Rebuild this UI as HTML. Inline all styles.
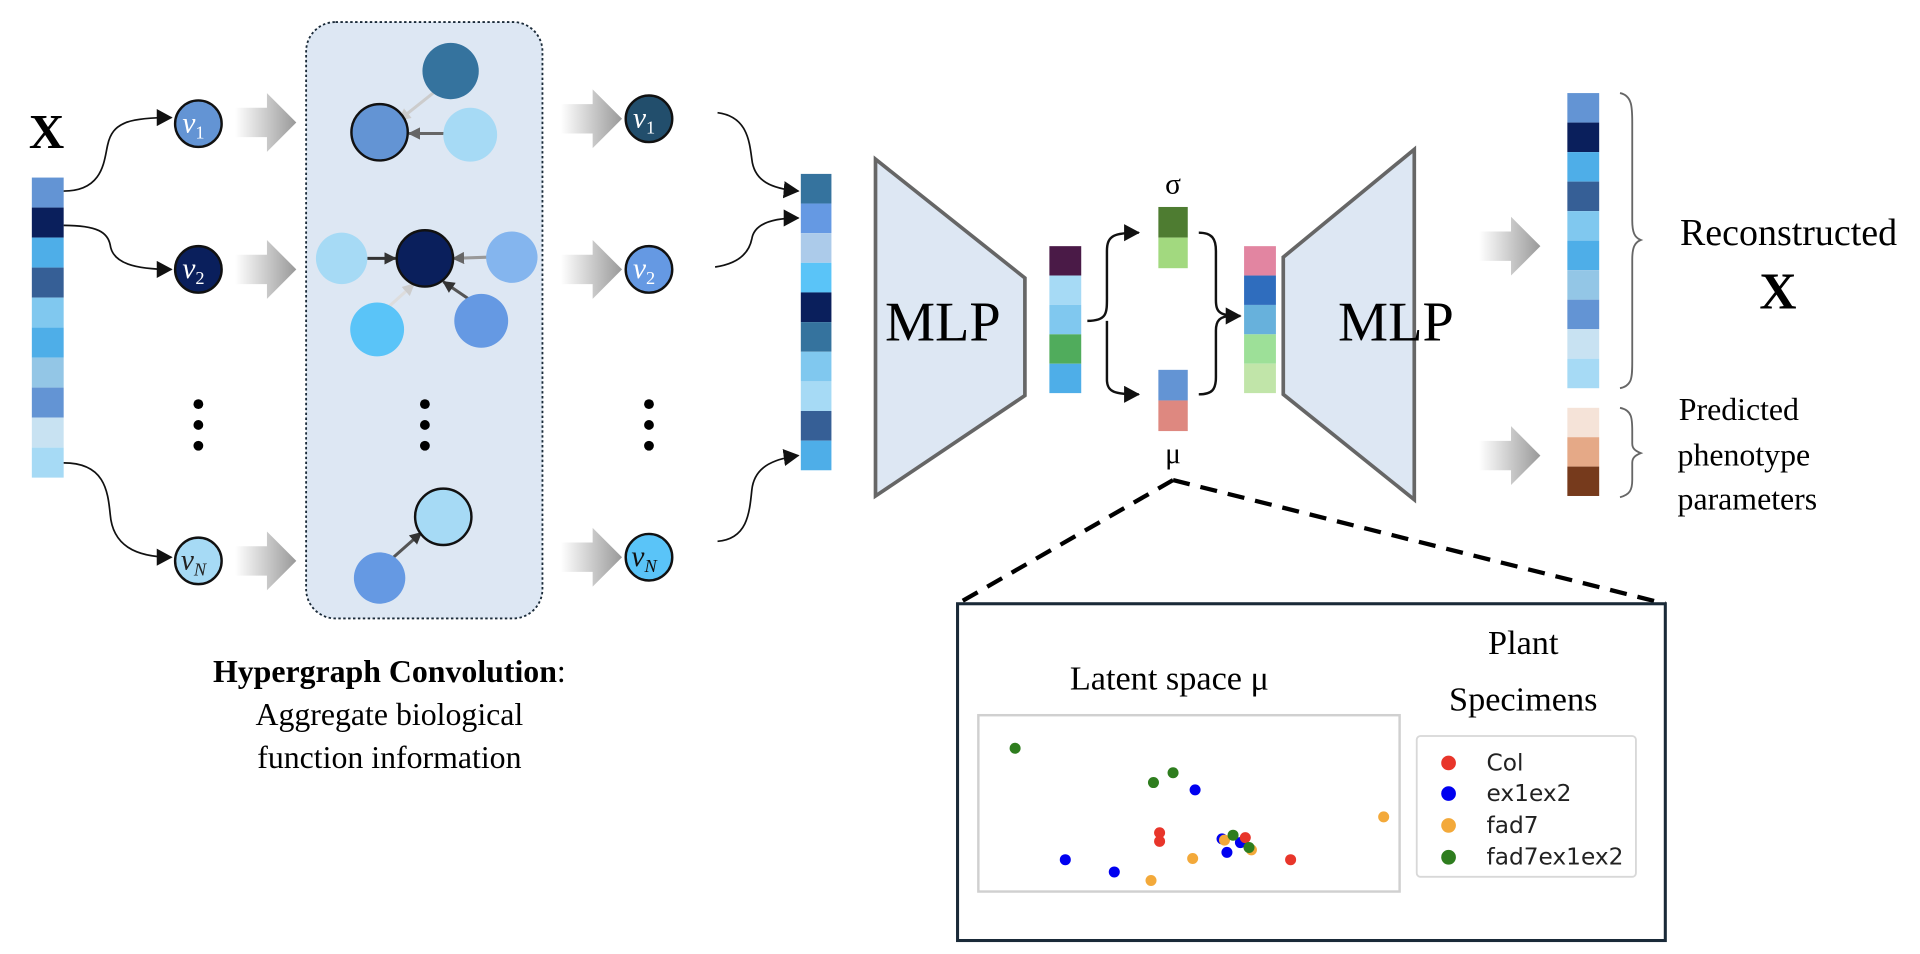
<!DOCTYPE html>
<html><head><meta charset="utf-8"><style>html,body{margin:0;padding:0;background:#fff}svg{display:block}</style></head>
<body>
<svg width="1920" height="954" viewBox="0 0 1568 779" preserveAspectRatio="none" xmlns="http://www.w3.org/2000/svg" font-family="Liberation Serif, serif">
<defs>
<marker id="ah2" markerWidth="14" markerHeight="14" refX="12" refY="7" orient="auto" markerUnits="userSpaceOnUse"><path d="M0,0 L13,7 L0,14z" fill="#111"/></marker>
<marker id="ag" markerWidth="10" markerHeight="10" refX="9" refY="5" orient="auto" markerUnits="userSpaceOnUse"><path d="M0,0 L10,5 L0,10z" fill="#666"/></marker>
<marker id="al" markerWidth="10" markerHeight="10" refX="9" refY="5" orient="auto" markerUnits="userSpaceOnUse"><path d="M0,0 L10,5 L0,10z" fill="#ccc"/></marker>
<marker id="ak" markerWidth="10" markerHeight="10" refX="9" refY="5" orient="auto" markerUnits="userSpaceOnUse"><path d="M0,0 L10,5 L0,10z" fill="#333"/></marker>
<linearGradient id="gg" x1="0" x2="1"><stop offset="0" stop-color="#fff"/><stop offset="1" stop-color="#999"/></linearGradient>
<g id="garr"><path d="M0,-12 L26,-12 L26,-24 L50,0 L26,24 L26,12 L0,12z" fill="url(#gg)"/></g>
</defs>

<text x="38" y="121" font-size="40" font-weight="bold" text-anchor="middle">X</text>
<g>
<rect x="26" y="145" width="26" height="24.5" fill="#6394d4"/><rect x="26" y="169.5" width="26" height="24.5" fill="#0a1f5c"/><rect x="26" y="194" width="26" height="24.5" fill="#4eaee8"/><rect x="26" y="218.5" width="26" height="24.5" fill="#365f96"/><rect x="26" y="243" width="26" height="24.5" fill="#80c8ef"/><rect x="26" y="267.5" width="26" height="24.5" fill="#4eaee8"/><rect x="26" y="292" width="26" height="24.5" fill="#93c6e6"/><rect x="26" y="316.5" width="26" height="24.5" fill="#6394d4"/><rect x="26" y="341" width="26" height="24.5" fill="#c8e2f2"/><rect x="26" y="365.5" width="26" height="24.5" fill="#a6daf5"/>
</g>
<g fill="none" stroke="#111" stroke-width="1.4">
<path d="M52,156 C85,156 85,130 88,118 C92,100 105,96 140,96" marker-end="url(#ah2)"/>
<path d="M52,184 C80,184 88,190 90,200 C92,215 110,220 140,220" marker-end="url(#ah2)"/>
<path d="M52,378 C85,378 88,400 90,420 C92,445 110,455 140,455" marker-end="url(#ah2)"/>
</g>
<g stroke="#111" stroke-width="2">
<circle cx="162" cy="101" r="19" fill="#6394d4"/><circle cx="162" cy="220" r="19" fill="#0a1f5c"/><circle cx="162" cy="458" r="19" fill="#a6daf5"/>
</g>
<g font-style="italic" font-size="24" fill="#fff" text-anchor="middle">
<text x="158" y="108">v<tspan font-size="15" dy="5" font-style="normal">1</tspan></text>
<text x="158" y="227">v<tspan font-size="15" dy="5" font-style="normal">2</tspan></text>
<text x="158" y="465" fill="#222">v<tspan font-size="15" dy="5">N</tspan></text>
</g>
<g fill="#000"><circle cx="162" cy="330" r="4"/><circle cx="162" cy="347" r="4"/><circle cx="162" cy="364" r="4"/></g>
<use href="#garr" x="192" y="100"/><use href="#garr" x="192" y="220"/><use href="#garr" x="192" y="458"/>

<rect x="250" y="18" width="193" height="487" rx="24" fill="#dde7f3" stroke="#1a2a38" stroke-width="1.5" stroke-dasharray="2,2"/>
<g stroke-width="2.5" fill="none">
<line x1="355" y1="75" x2="326" y2="98" stroke="#ccc" marker-end="url(#al)"/>
<line x1="363" y1="109" x2="334" y2="109" stroke="#666" marker-end="url(#ag)"/>
<line x1="300" y1="211" x2="323" y2="211" stroke="#333" marker-end="url(#ak)"/>
<line x1="398" y1="210" x2="370" y2="211" stroke="#999" marker-end="url(#ag)"/>
<line x1="318" y1="250" x2="338" y2="232" stroke="#ddd" marker-end="url(#al)"/>
<line x1="384" y1="245" x2="362" y2="230" stroke="#555" marker-end="url(#ak)"/>
<line x1="318" y1="458" x2="344" y2="435" stroke="#555" marker-end="url(#ak)"/>
</g>
<circle cx="368" cy="58" r="23" fill="#35739e"/>
<circle cx="310" cy="108" r="23" fill="#6394d4" stroke="#111" stroke-width="2"/>
<circle cx="384" cy="110" r="22" fill="#a6daf5"/>
<circle cx="279" cy="211" r="21" fill="#a6daf5"/>
<circle cx="347" cy="211" r="23" fill="#0a1f5c" stroke="#111" stroke-width="2"/>
<circle cx="418" cy="210" r="21" fill="#84b5ee"/>
<circle cx="308" cy="269" r="22" fill="#5ac4f8"/>
<circle cx="393" cy="262" r="22" fill="#6599e3"/>
<circle cx="362" cy="422" r="23" fill="#a6daf5" stroke="#111" stroke-width="2"/>
<circle cx="310" cy="472" r="21" fill="#6599e3"/>
<g fill="#000"><circle cx="347" cy="330" r="4"/><circle cx="347" cy="347" r="4"/><circle cx="347" cy="364" r="4"/></g>

<use href="#garr" x="458" y="97"/><use href="#garr" x="458" y="220"/><use href="#garr" x="458" y="455"/>
<g stroke="#111" stroke-width="2">
<circle cx="530" cy="97" r="19" fill="#224e6c"/><circle cx="530" cy="220" r="19" fill="#6599e3"/><circle cx="530" cy="455" r="19" fill="#5ac4f8"/>
</g>
<g font-style="italic" font-size="24" fill="#fff" text-anchor="middle">
<text x="526" y="104">v<tspan font-size="15" dy="5" font-style="normal">1</tspan></text>
<text x="526" y="227">v<tspan font-size="15" dy="5" font-style="normal">2</tspan></text>
<text x="526" y="462" fill="#111">v<tspan font-size="15" dy="5">N</tspan></text>
</g>
<g fill="#000"><circle cx="530" cy="330" r="4"/><circle cx="530" cy="347" r="4"/><circle cx="530" cy="364" r="4"/></g>
<g fill="none" stroke="#111" stroke-width="1.4">
<path d="M586,92 C610,95 612,115 614,130 C616,148 630,154 652,156" marker-end="url(#ah2)"/>
<path d="M584,218 C605,215 612,205 614,195 C616,183 630,178 652,178" marker-end="url(#ah2)"/>
<path d="M586,442 C610,440 612,420 614,400 C616,382 630,375 652,372" marker-end="url(#ah2)"/>
</g>
<g>
<rect x="654" y="142" width="25" height="24.2" fill="#35739e"/><rect x="654" y="166.2" width="25" height="24.2" fill="#6599e3"/><rect x="654" y="190.4" width="25" height="24.2" fill="#accbea"/><rect x="654" y="214.6" width="25" height="24.2" fill="#5ac4f8"/><rect x="654" y="238.8" width="25" height="24.2" fill="#0a1f5c"/><rect x="654" y="263" width="25" height="24.2" fill="#35739e"/><rect x="654" y="287.2" width="25" height="24.2" fill="#80c8ef"/><rect x="654" y="311.4" width="25" height="24.2" fill="#a6daf5"/><rect x="654" y="335.6" width="25" height="24.2" fill="#365f96"/><rect x="654" y="359.8" width="25" height="24.2" fill="#4eaee8"/>
</g>

<path d="M715,130 L837,227 L837,323 L715,405z" fill="#dde7f3" stroke="#666" stroke-width="3"/>
<text x="770" y="278" font-size="46" text-anchor="middle">MLP</text>
<rect x="857" y="201" width="26" height="24" fill="#4a1a47"/><rect x="857" y="225" width="26" height="24" fill="#a6daf5"/><rect x="857" y="249" width="26" height="24" fill="#80c8ef"/><rect x="857" y="273" width="26" height="24" fill="#50ac5c"/><rect x="857" y="297" width="26" height="24" fill="#4eaee8"/>
<g fill="none" stroke="#111" stroke-width="2">
<path d="M888,262 C905,262 904,255 904,240 L904,205 C904,192 910,190 930,190" marker-end="url(#ah2)"/>
<path d="M904,262 L904,310 C904,320 910,322 930,322" marker-end="url(#ah2)"/>
<path d="M979,190 C990,190 993,195 993,205 L993,245 C993,255 996,258 1013,258" marker-end="url(#ah2)"/>
<path d="M979,322 C990,322 993,318 993,308 L993,270 C993,262 996,258 1006,258"/>
</g>
<rect x="946" y="169" width="24" height="25" fill="#4e7c31"/><rect x="946" y="194" width="24" height="25" fill="#a2d97f"/>
<rect x="946" y="302" width="24" height="25" fill="#6394d4"/><rect x="946" y="327" width="24" height="25" fill="#de8880"/>
<text x="958" y="158" font-size="24" text-anchor="middle">σ</text>
<text x="958" y="378" font-size="24" text-anchor="middle">μ</text>
<rect x="1016" y="201" width="26" height="24" fill="#e285a1"/><rect x="1016" y="225" width="26" height="24" fill="#2f6dbe"/><rect x="1016" y="249" width="26" height="24" fill="#67b1dc"/><rect x="1016" y="273" width="26" height="24" fill="#9de098"/><rect x="1016" y="297" width="26" height="24" fill="#c1e5a9"/>

<path d="M1048,210 L1155,122 L1155,408 L1048,322z" fill="#dde7f3" stroke="#666" stroke-width="3"/>
<text x="1140" y="278" font-size="46" text-anchor="middle">MLP</text>
<use href="#garr" x="1208" y="201"/><use href="#garr" x="1208" y="372"/>
<g>
<rect x="1280" y="76" width="26" height="24.1" fill="#6394d4"/><rect x="1280" y="100.1" width="26" height="24.1" fill="#0a1f5c"/><rect x="1280" y="124.2" width="26" height="24.1" fill="#4eaee8"/><rect x="1280" y="148.3" width="26" height="24.1" fill="#365f96"/><rect x="1280" y="172.4" width="26" height="24.1" fill="#80c8ef"/><rect x="1280" y="196.5" width="26" height="24.1" fill="#4eaee8"/><rect x="1280" y="220.6" width="26" height="24.1" fill="#93c6e6"/><rect x="1280" y="244.7" width="26" height="24.1" fill="#6394d4"/><rect x="1280" y="268.8" width="26" height="24.1" fill="#c8e2f2"/><rect x="1280" y="292.9" width="26" height="24.1" fill="#a6daf5"/>
<rect x="1280" y="333" width="26" height="24" fill="#f5e3d8"/><rect x="1280" y="357" width="26" height="24" fill="#e5a987"/><rect x="1280" y="381" width="26" height="24" fill="#763a1c"/>
</g>
<g fill="none" stroke="#666" stroke-width="1.5">
<path d="M1323,76 C1333,78 1333,88 1333,100 L1333,180 C1333,190 1335,194 1340,196 C1335,198 1333,202 1333,212 L1333,295 C1333,308 1333,315 1323,317"/>
<path d="M1323,333 C1333,335 1333,342 1333,352 L1333,362 C1333,366 1335,368 1340,370 C1335,372 1333,374 1333,378 L1333,392 C1333,400 1331,404 1323,406"/>
</g>
<text x="1372" y="200" font-size="31">Reconstructed</text>
<text x="1452" y="252" font-size="42" font-weight="bold" text-anchor="middle">X</text>
<text x="1371" y="343" font-size="26">Predicted</text>
<text x="1370" y="380" font-size="26">phenotype</text>
<text x="1370" y="416" font-size="26">parameters</text>

<text x="318" y="557" font-size="26" text-anchor="middle"><tspan font-weight="bold">Hypergraph Convolution</tspan>:</text>
<text x="318" y="592" font-size="26" text-anchor="middle">Aggregate biological</text>
<text x="318" y="627" font-size="26" text-anchor="middle">function information</text>

<g stroke="#000" stroke-width="3.5" stroke-dasharray="14,9" fill="none">
<line x1="958" y1="392" x2="782" y2="493"/>
<line x1="958" y1="392" x2="1360" y2="493"/>
</g>
<rect x="782" y="493" width="578" height="275" fill="#fff" stroke="#1a2a38" stroke-width="2.5"/>
<text x="955" y="563" font-size="28" text-anchor="middle">Latent space μ</text>
<text x="1244" y="534" font-size="28" text-anchor="middle">Plant</text>
<text x="1244" y="580" font-size="28" text-anchor="middle">Specimens</text>
<rect x="799" y="584" width="344" height="144" fill="#fff" stroke="#d0d0d0" stroke-width="2"/>
<rect x="1157" y="601" width="179" height="115" rx="3" fill="#fff" stroke="#d8d8d8" stroke-width="1.5"/>
<g font-family="DejaVu Sans, sans-serif" font-size="19" fill="#222">
<circle cx="1183" cy="623" r="6" fill="#e8352a"/><text x="1214" y="629">Col</text>
<circle cx="1183" cy="648" r="6" fill="#0000f0"/><text x="1214" y="654">ex1ex2</text>
<circle cx="1183" cy="674" r="6" fill="#f3a93a"/><text x="1214" y="680">fad7</text>
<circle cx="1183" cy="700" r="6" fill="#2e7d1e"/><text x="1214" y="706">fad7ex1ex2</text>
</g>
<g>
<circle cx="829" cy="611" r="4.5" fill="#2e7d1e"/><circle cx="942" cy="639" r="4.5" fill="#2e7d1e"/><circle cx="958" cy="631" r="4.5" fill="#2e7d1e"/>
<circle cx="976" cy="645" r="4.5" fill="#0000f0"/><circle cx="870" cy="702" r="4.5" fill="#0000f0"/><circle cx="910" cy="712" r="4.5" fill="#0000f0"/><circle cx="998" cy="685" r="4.5" fill="#0000f0"/><circle cx="1002" cy="696" r="4.5" fill="#0000f0"/><circle cx="1013" cy="688" r="4.5" fill="#0000f0"/>
<circle cx="947" cy="680" r="4.5" fill="#e8352a"/><circle cx="947" cy="687" r="4.5" fill="#e8352a"/><circle cx="1017" cy="684" r="4.5" fill="#e8352a"/><circle cx="1054" cy="702" r="4.5" fill="#e8352a"/>
<circle cx="1130" cy="667" r="4.5" fill="#f3a93a"/><circle cx="974" cy="701" r="4.5" fill="#f3a93a"/><circle cx="940" cy="719" r="4.5" fill="#f3a93a"/><circle cx="1000" cy="686" r="4.5" fill="#f3a93a"/><circle cx="1022" cy="694" r="4.5" fill="#f3a93a"/>
<circle cx="1007" cy="682" r="4.5" fill="#2e7d1e"/><circle cx="1020" cy="692" r="4.5" fill="#2e7d1e"/>
</g>
</svg>
</body></html>
